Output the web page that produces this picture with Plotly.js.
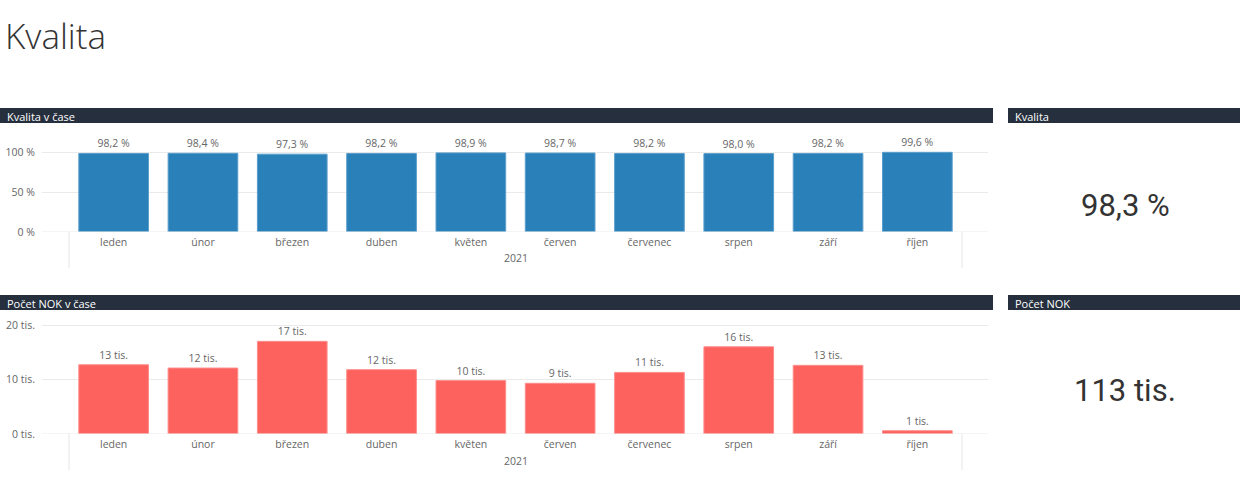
<!DOCTYPE html>
<html><head><meta charset="utf-8">
<script src="https://cdn.plot.ly/plotly-3.0.1.min.js"></script>
<style>html,body{margin:0;padding:0;background:#fff;}#chart{width:1240px;height:492px;}</style>
</head><body><div id="chart"></div>
<script>
const months = ["leden","únor","březen","duben","květen","červen","červenec","srpen","září","říjen"];
const quality = [98.2, 98.4, 97.3, 98.2, 98.9, 98.7, 98.2, 98.0, 98.2, 99.6];
const nok = [12700, 12100, 17000, 11800, 9800, 9300, 11300, 16000, 12600, 600];
const qualityTicks = [0, 50, 100];
const qualityTickText = ["0 %", "50 %", "100 %"];
const nokTicks = [0, 10000, 20000];
const nokTickText = ["0 tis.", "10 tis.", "20 tis."];
const yearLabel = "2021";
const qualityTotal = "98,3 %";
const nokTotal = "113 tis.";

const W = 1240, H = 492;
const px = x => x / W;
const py = y => 1 - y / H;
const fmtQ = v => v.toFixed(1).replace('.', ',') + ' %';
const fmtN = v => Math.round(v / 1000) + ' tis.';

const FONT = "'Open Sans', 'Noto Sans', sans-serif";
const LBL = '#666666';
const HEADER = '#252F3D';

const traces = [
  {type:'bar', x: months.map((m,i)=>i), y: quality, xaxis:'x', yaxis:'y',
   marker:{color:'#2A80B9', line:{color:'#5A9ECB', width:1}}, width:0.78,
   text: quality.map(fmtQ), textposition:'outside', cliponaxis:false,
   textfont:{family:FONT, size:10.5, color:LBL}, hoverinfo:'none'},
  {type:'bar', x: months.map((m,i)=>i), y: nok, xaxis:'x2', yaxis:'y2',
   marker:{color:'#FD625E', line:{color:'#FE8D8A', width:1}}, width:0.78,
   text: nok.map(fmtN), textposition:'outside', cliponaxis:false,
   textfont:{family:FONT, size:10.5, color:LBL}, hoverinfo:'none'}
];

const xr = [-0.5 - 27/89.3, 9.5 + 26/89.3];
const xdom = [px(42), px(988)];
const axBase = {tickfont:{family:FONT, size:10.5, color:LBL}, showline:false, zeroline:false, fixedrange:true};

const layout = {
  width: W, height: H, margin:{l:0,r:0,t:0,b:0}, showlegend:false,
  paper_bgcolor:'#fff', plot_bgcolor:'#fff', bargap:0.22,
  font:{family:FONT},
  xaxis: Object.assign({}, axBase, {domain:xdom, range:xr, tickvals: months.map((m,i)=>i), ticktext: months, showgrid:false, ticks:'', ticklabelstandoff:2, anchor:'y'}),
  yaxis: Object.assign({}, axBase, {domain:[py(232), py(130)], range:[0, 127.5], tickvals: qualityTicks, ticktext: qualityTickText, showgrid:true, gridcolor:'#EAEAEA', gridwidth:1, ticks:'', ticklabelstandoff:6, anchor:'x'}),
  xaxis2: Object.assign({}, axBase, {domain:xdom, range:xr, tickvals: months.map((m,i)=>i), ticktext: months, showgrid:false, ticks:'', ticklabelstandoff:2, anchor:'y2'}),
  yaxis2: Object.assign({}, axBase, {domain:[py(434), py(318)], range:[0, 21284], tickvals: nokTicks, ticktext: nokTickText, showgrid:true, gridcolor:'#EAEAEA', gridwidth:1, ticks:'', ticklabelstandoff:6, anchor:'x2'}),
  shapes: [
    {type:'rect', xref:'paper', yref:'paper', x0:px(0), x1:px(993), y0:py(123), y1:py(108), fillcolor:HEADER, line:{width:0}},
    {type:'rect', xref:'paper', yref:'paper', x0:px(1008), x1:px(1240), y0:py(123), y1:py(108), fillcolor:HEADER, line:{width:0}},
    {type:'rect', xref:'paper', yref:'paper', x0:px(0), x1:px(993), y0:py(310), y1:py(295), fillcolor:HEADER, line:{width:0}},
    {type:'rect', xref:'paper', yref:'paper', x0:px(1008), x1:px(1240), y0:py(310), y1:py(295), fillcolor:HEADER, line:{width:0}},
    {type:'line', xref:'x', yref:'paper', x0:-0.5, x1:-0.5, y0:py(232), y1:py(268), line:{color:'#E6E6E6', width:1}},
    {type:'line', xref:'x', yref:'paper', x0:9.5, x1:9.5, y0:py(232), y1:py(268), line:{color:'#E6E6E6', width:1}},
    {type:'line', xref:'x2', yref:'paper', x0:-0.5, x1:-0.5, y0:py(434), y1:py(470), line:{color:'#E6E6E6', width:1}},
    {type:'line', xref:'x2', yref:'paper', x0:9.5, x1:9.5, y0:py(434), y1:py(470), line:{color:'#E6E6E6', width:1}},
    {type:'line', xref:'paper', yref:'y', x0:px(42), x1:px(988), y0:0, y1:0, line:{color:'#EAEAEA', width:1}},
    {type:'line', xref:'paper', yref:'y2', x0:px(42), x1:px(988), y0:0, y1:0, line:{color:'#EAEAEA', width:1}}
  ],
  annotations: [
    {text:'Kvalita', xref:'paper', yref:'paper', x:px(3), y:py(35), xanchor:'left', yanchor:'middle', showarrow:false, font:{family:FONT, size:35, color:'#333333', weight:300}},
    {text:'Kvalita v čase', xref:'paper', yref:'paper', x:px(5), y:py(116), xanchor:'left', yanchor:'middle', showarrow:false, font:{family:FONT, size:11, color:'#ffffff'}},
    {text:'Kvalita', xref:'paper', yref:'paper', x:px(1013), y:py(116), xanchor:'left', yanchor:'middle', showarrow:false, font:{family:FONT, size:11, color:'#ffffff'}},
    {text:'Počet NOK v čase', xref:'paper', yref:'paper', x:px(5), y:py(303), xanchor:'left', yanchor:'middle', showarrow:false, font:{family:FONT, size:11, color:'#ffffff'}},
    {text:'Počet NOK', xref:'paper', yref:'paper', x:px(1013), y:py(303), xanchor:'left', yanchor:'middle', showarrow:false, font:{family:FONT, size:11, color:'#ffffff'}},
    {text:yearLabel, xref:'x', yref:'paper', x:4.5, y:py(258), xanchor:'center', yanchor:'middle', showarrow:false, font:{family:FONT, size:10.5, color:LBL}},
    {text:yearLabel, xref:'x2', yref:'paper', x:4.5, y:py(461), xanchor:'center', yanchor:'middle', showarrow:false, font:{family:FONT, size:10.5, color:LBL}},
    {text:qualityTotal, xref:'paper', yref:'paper', x:px(1125), y:py(205), xanchor:'center', yanchor:'middle', showarrow:false, font:{family:"Roboto, sans-serif", size:31, color:'#333333'}},
    {text:nokTotal, xref:'paper', yref:'paper', x:px(1125), y:py(390), xanchor:'center', yanchor:'middle', showarrow:false, font:{family:"Roboto, sans-serif", size:31, color:'#333333'}}
  ]
};

Plotly.newPlot('chart', traces, layout, {displayModeBar:false, staticPlot:true});
</script>
</body></html>
